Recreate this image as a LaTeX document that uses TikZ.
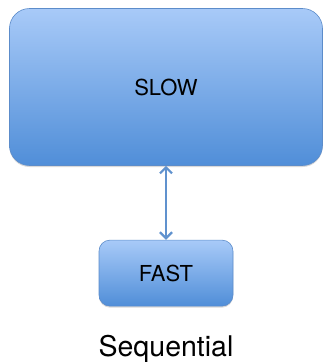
\documentclass[tikz,border=0pt]{standalone}
\usepackage{fontspec}
\setmainfont{TeX Gyre Heros}
\usepackage{xcolor}
\usepackage{tikz}
\usetikzlibrary{arrows.meta,positioning,shadows}

\definecolor{boxtop}{RGB}{168,202,248}
\definecolor{boxbot}{RGB}{80,142,216}
\definecolor{boxline}{RGB}{92,140,202}
\definecolor{linkblue}{RGB}{96,146,206}

\begin{document}
\begin{tikzpicture}[
  node distance=74pt,
  box/.style={draw=boxline, line width=0.6pt, top color=boxtop, bottom color=boxbot,
    align=center, inner sep=0pt,
    drop shadow={shadow xshift=0pt, shadow yshift=-1.5pt, opacity=0.25, fill=black!60}},
  arr/.style={{Straight Barb[length=6pt,width=12pt]}-{Straight Barb[length=6pt,width=12pt]},
    draw=linkblue, line width=2.2pt}
]
  \useasboundingbox (0pt,0pt) rectangle (324pt,-362pt);
  \node[box, rounded corners=20pt, minimum width=313pt, minimum height=157pt,
        font=\fontsize{22}{26}\selectfont] (slow) at (166pt,-87pt) {SLOW};
  \node[box, rounded corners=11pt, minimum width=134pt, minimum height=66pt,
        font=\fontsize{22}{26}\selectfont, below=74pt of slow] (fast) {FAST};
  % caption sits on its baseline under the small box
  \node[font=\fontsize{28.5}{32}\selectfont, anchor=base, inner sep=0pt] (seq)
    at (fast.south |- 0pt,-356pt) {Sequential};
  \draw[arr] (slow.south) -- (fast.north);
\end{tikzpicture}
\end{document}
